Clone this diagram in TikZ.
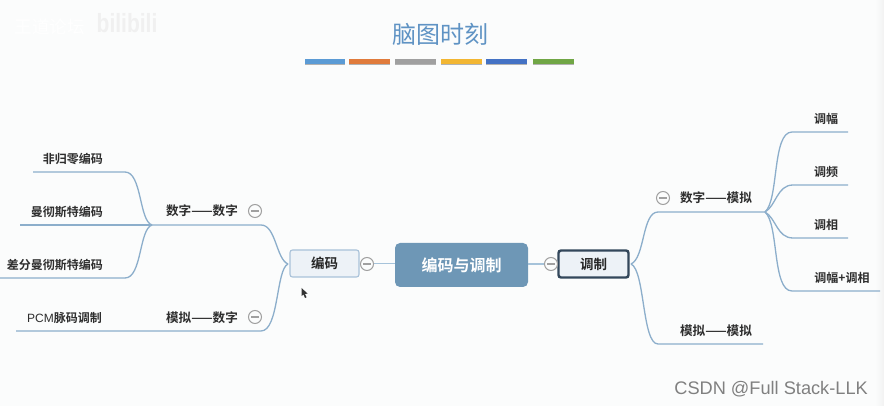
\documentclass[tikz,border=0pt]{standalone}
\usepackage{fontspec}
\setmainfont{Liberation Sans}
\newfontfamily\cjk{Noto Sans CJK SC}
\newfontfamily\cjkb{Noto Sans CJK SC Bold}
\newfontfamily\latinf{Liberation Sans}
\definecolor{bgc}{HTML}{FBFCFC}
\definecolor{linec}{HTML}{8CAECB}
\definecolor{linkc}{HTML}{A6C3DA}
\definecolor{rootc}{HTML}{6E97B6}
\definecolor{subc}{HTML}{EDF2F7}
\definecolor{subb}{HTML}{A9C2D9}
\definecolor{selb}{HTML}{33475B}
\definecolor{minusc}{HTML}{A0A0A0}
\definecolor{titlec}{HTML}{5F93C4}
\tikzset{
  lbl/.style={inner sep=0pt,font=\cjkb\fontsize{12}{13}\selectfont,text=black!82},
  wide/.style={inner sep=0pt,font=\cjkb\fontsize{12.6}{13}\selectfont,text=black!82},
  conn/.style={draw=linec,line width=1.3pt},
  rootlink/.style={draw=linkc,line width=1.6pt},
  sub/.style={draw=subb,line width=1.1pt,fill=subc,rounded corners=2.5pt,inner sep=0pt,font=\cjkb\fontsize{13.5}{14}\selectfont,text=black!85},
  selsub/.style={sub,draw=selb,line width=2.4pt},
  rootnode/.style={fill=rootc,rounded corners=5pt,inner sep=0pt,text=white,font=\cjkb\fontsize{16}{18}\selectfont},
  minusn/.style={circle,draw=minusc,line width=1pt,fill=bgc,minimum size=13pt,inner sep=0pt,path picture={\draw[minusc,line width=1.4pt] ([xshift=-4pt]path picture bounding box.center) -- ([xshift=4pt]path picture bounding box.center);}},
}
\begin{document}
\begin{tikzpicture}[x=1pt,y=-1pt]
\useasboundingbox (0,0) rectangle (884,406);
\fill[bgc] (0,0) rectangle (884,406);
\shade[left color=bgc,right color=black!5] (875,0) rectangle (884,406);
% watermark
\node[inner sep=0pt,text=white,font=\cjk\fontsize{17.5}{18}\selectfont] (wm) at (50,27) {王道论坛};
\node[inner sep=0pt,text=black!6,yscale=1.25,font=\bfseries\fontsize{21}{21}\selectfont] (bili) at (127,23) {bilibili};
% title
\node[inner sep=0pt,text=titlec,font=\cjk\fontsize{24}{26}\selectfont] (title) at (440,34) {脑图时刻};
\foreach \a/\b/\c [count=\i] in {305/345/5B9BD5,349/390/E07B3C,395/436/A0A0A0,441/482/F2B632,486/527/4472C4,533/574/70A645}{
  \definecolor{barc}{HTML}{\c}
  \fill[black!30] (\a,60.5) rectangle (\b,65);
  \fill[barc] (\a,59.5) rectangle (\b,64);
}
% central nodes
\node[rootnode,minimum width=133pt,minimum height=44pt] (root) at (461.5,265) {编码与调制};
\node[sub,minimum width=69pt,minimum height=27pt] (enc) at (324.5,263.5) {编码};
\node[selsub,minimum width=70pt,minimum height=27pt] (mod) at (593.5,264) {调制};
% hubs and free ends
\coordinate (hl) at (152,225);
\coordinate (hr) at (765,212);
\coordinate (l1) at (33,172);
\coordinate (l2) at (20,225);
\coordinate (l3) at (0,278);
\coordinate (l4) at (16,331);
\coordinate (r1) at (848,132);
\coordinate (r2) at (848,185);
\coordinate (r3) at (848,238);
\coordinate (r4) at (880,291);
\coordinate (r5) at (763,344);
\coordinate (encw) at (288,264);
\coordinate (mode) at (631,264);
% left connectors
\draw[conn] (encw) .. controls (276,259) and (276,225) .. (261,225) -- (hl);
\draw[conn] (encw) .. controls (276,269) and (279,331) .. (261,331) -- (l4);
\draw[conn] (hl) .. controls (139,221) and (142,172) .. (125,172) -- (l1);
\draw[conn] (hl) -- (l2);
\draw[conn] (hl) .. controls (139,229) and (142,278) .. (125,278) -- (l3);
% right connectors
\draw[conn] (mode) .. controls (645,258) and (642,212) .. (658,212) -- (hr);
\draw[conn] (mode) .. controls (645,270) and (642,344) .. (658,344) -- (r5);
\draw[conn] (hr) .. controls (779,200) and (772,132) .. (792,132) -- (r1);
\draw[conn] (hr) .. controls (776,206) and (777,185) .. (793,185) -- (r2);
\draw[conn] (hr) .. controls (776,218) and (777,238) .. (793,238) -- (r3);
\draw[conn] (hr) .. controls (779,224) and (772,291) .. (792,291) -- (r4);
% root links
\draw[rootlink] (enc.east) -- (root.west |- enc.east);
\draw[rootlink] (root.east |- mod.west) -- (mod.west);
% collapse markers
\node[minusn] (m1) at (367,264) {};
\node[minusn] (m2) at (551,264) {};
\node[minusn] (m3) at (255,211) {};
\node[minusn] (m4) at (255,317) {};
\node[minusn] (m5) at (663,198) {};
% left labels
\node[lbl,anchor=east] (a1) at (103,159) {非归零编码};
\node[lbl,anchor=east] (a2) at (103,212) {曼彻斯特编码};
\node[lbl,anchor=east] (a3) at (103,265) {差分曼彻斯特编码};
\node[lbl,anchor=east] (a4) at (102,318) {{\latinf PCM}脉码调制};
\node[wide] (b1) at (202,211) {数字——数字};
\node[wide] (b2) at (202,318) {模拟——数字};
% right labels
\node[wide] (c1) at (716,198) {数字——模拟};
\node[wide] (c2) at (716,331) {模拟——模拟};
\node[lbl] (d1) at (826,119) {调幅};
\node[lbl] (d2) at (826,172) {调频};
\node[lbl] (d3) at (826,225) {调相};
\node[lbl] (d4) at (842,278) {调幅+调相};
% cursor
\fill[black!80] (301.5,288) -- (301.5,296) -- (303.5,294.5) -- (305,298) -- (306.5,297.3) -- (305,294) -- (307.5,293.5) -- cycle;
% credit
\node[inner sep=0pt,anchor=east,text=black!50,font=\fontsize{18.2}{19}\selectfont] (credit) at (868,389) {CSDN @Full Stack-LLK};
\end{tikzpicture}
\end{document}
